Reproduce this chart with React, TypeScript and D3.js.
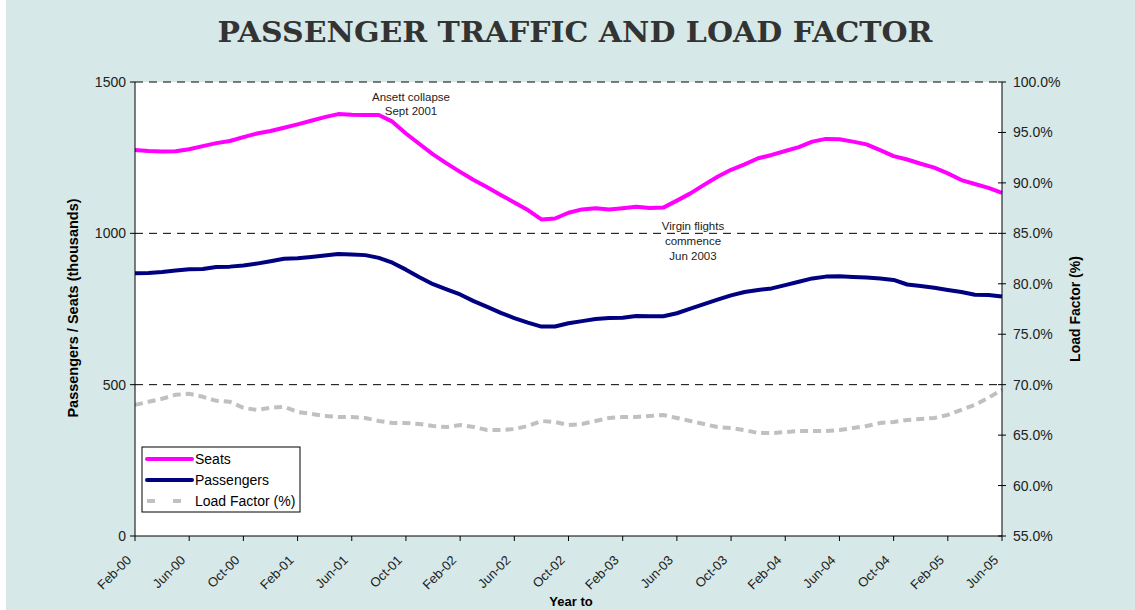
import React from 'react';
import * as d3 from 'd3';

// monthly values, Feb-00 .. Jun-05
const seats = [
  1275, 1272, 1270, 1271, 1278, 1288, 1298, 1305, 1318, 1330, 1338, 1349, 1360,
  1372, 1384, 1394, 1392, 1391, 1391, 1369, 1330, 1295, 1261, 1231, 1203, 1176,
  1152, 1127, 1102, 1077, 1046, 1049, 1068, 1079, 1083, 1079, 1083, 1088, 1084,
  1085, 1108, 1132, 1160, 1187, 1210, 1228, 1248, 1259, 1272, 1285, 1303, 1312,
  1311, 1303, 1294, 1275, 1255, 1244, 1230, 1217, 1198, 1176, 1163, 1150, 1134,
];
const passengers = [
  868, 869, 872, 877, 881, 882, 889, 890, 894, 900, 908, 916, 918,
  922, 927, 932, 930, 928, 919, 903, 880, 855, 832, 815, 798, 776,
  757, 737, 720, 705, 692, 692, 703, 710, 717, 720, 721, 727, 726,
  726, 736, 751, 766, 781, 795, 806, 813, 818, 829, 840, 851, 857,
  858, 856, 854, 851, 846, 831, 826, 820, 813, 806, 797, 796, 791,
];
const loadFactor = [
  68.0, 68.3, 68.6, 69.0, 69.1, 68.8, 68.4, 68.3, 67.7, 67.5, 67.7, 67.8, 67.3,
  67.1, 66.9, 66.8, 66.8, 66.7, 66.4, 66.2, 66.2, 66.1, 65.9, 65.8, 66.0, 65.8,
  65.5, 65.5, 65.6, 65.9, 66.4, 66.3, 66.0, 66.1, 66.4, 66.7, 66.8, 66.8, 66.9,
  67.0, 66.7, 66.4, 66.1, 65.8, 65.7, 65.5, 65.2, 65.2, 65.3, 65.4, 65.4, 65.4,
  65.5, 65.7, 65.9, 66.2, 66.3, 66.5, 66.6, 66.7, 67.0, 67.5, 68.0, 68.7, 69.5,
];
const tickLabels = [
  'Feb-00', 'Jun-00', 'Oct-00', 'Feb-01', 'Jun-01', 'Oct-01', 'Feb-02', 'Jun-02', 'Oct-02',
  'Feb-03', 'Jun-03', 'Oct-03', 'Feb-04', 'Jun-04', 'Oct-04', 'Feb-05', 'Jun-05',
];
const leftTicks = [0, 500, 1000, 1500];
const rightTicks = [55, 60, 65, 70, 75, 80, 85, 90, 95, 100];

const W = 1135;
const H = 610;
const m = { left: 135, right: 1002, top: 82, bottom: 536 };
const font = '"Liberation Sans", Arial, sans-serif';

export default function App() {
  const x = d3.scaleLinear().domain([0, seats.length - 1]).range([m.left, m.right]);
  const y = d3.scaleLinear().domain([0, 1500]).range([m.bottom, m.top]);
  const y2 = d3.scaleLinear().domain([55, 100]).range([m.bottom, m.top]);

  const line = d3.line<number>().x((_, i) => x(i)).y(d => y(d));
  const lfLine = d3.line<number>().x((_, i) => x(i)).y(d => y2(d));

  return (
    <svg width={W} height={H} style={{ position: 'absolute', left: 0, top: 0 }}>
      <rect x={0} y={0} width={W} height={H} fill="#fff" />
      <rect x={6} y={0} width={W - 6} height={H} fill="#D6E9E8" />

      <text x={575} y={42} textAnchor="middle" fontFamily='"DejaVu Serif", Georgia, serif'
        fontWeight="bold" fontSize={28} fill="#333" textLength={715} lengthAdjust="spacingAndGlyphs">
        PASSENGER TRAFFIC AND LOAD FACTOR
      </text>

      <rect x={m.left} y={m.top} width={m.right - m.left} height={m.bottom - m.top} fill="#fff" />

      {/* gridlines */}
      {leftTicks.filter(t => t > 0).map(t => (
        <line key={t} x1={m.left} x2={m.right} y1={y(t)} y2={y(t)}
          stroke="#000" strokeWidth={1} strokeDasharray="8 6" />
      ))}

      {/* series */}
      <path d={lfLine(loadFactor) || ''} fill="none" stroke="#C0C0C0" strokeWidth={4} strokeDasharray="8 5" />
      <path d={line(seats) || ''} fill="none" stroke="#FF00FF" strokeWidth={4} strokeLinejoin="round" />
      <path d={line(passengers) || ''} fill="none" stroke="#000080" strokeWidth={4} strokeLinejoin="round" />

      {/* axes */}
      <line x1={m.left} x2={m.left} y1={m.top} y2={m.bottom} stroke="#000" />
      <line x1={m.right} x2={m.right} y1={m.top} y2={m.bottom} stroke="#000" />
      <line x1={m.left} x2={m.right} y1={m.bottom} y2={m.bottom} stroke="#000" />

      {leftTicks.map(t => (
        <g key={t}>
          <line x1={m.left - 5} x2={m.left} y1={y(t)} y2={y(t)} stroke="#000" />
          <text x={m.left - 9} y={y(t) + 5} textAnchor="end" fontFamily={font} fontSize={14} fill="#222">{t}</text>
        </g>
      ))}
      {rightTicks.map(t => (
        <g key={t}>
          <line x1={m.right - 4} x2={m.right + 4} y1={y2(t)} y2={y2(t)} stroke="#000" />
          <text x={m.right + 11} y={y2(t) + 5} fontFamily={font} fontSize={14} fill="#222">{t.toFixed(1)}%</text>
        </g>
      ))}
      {tickLabels.map((lab, k) => {
        const tx = x(k * 4);
        return (
          <g key={lab}>
            <line x1={tx} x2={tx} y1={m.bottom} y2={m.bottom + 5} stroke="#000" />
            <text transform={`translate(${tx - 3},${m.bottom + 25}) rotate(-45)`} textAnchor="end"
              fontFamily={font} fontSize={13} fill="#222">{lab}</text>
          </g>
        );
      })}

      <text transform={`translate(78,308) rotate(-90)`} textAnchor="middle"
        fontFamily={font} fontWeight="bold" fontSize={14.5} fill="#000">Passengers / Seats  (thousands)</text>
      <text transform={`translate(1080,309) rotate(-90)`} textAnchor="middle"
        fontFamily={font} fontWeight="bold" fontSize={14} fill="#000">Load Factor (%)</text>
      <text x={571} y={606} textAnchor="middle" fontFamily={font} fontWeight="bold"
        fontSize={13} fill="#000">Year to</text>

      {/* annotations */}
      <text x={411} y={101} textAnchor="middle" fontFamily={font} fontSize={11.5} fill="#222">
        <tspan x={411}>Ansett collapse</tspan>
        <tspan x={411} dy={14}>Sept 2001</tspan>
      </text>
      <text x={693} y={230} textAnchor="middle" fontFamily={font} fontSize={11.5} fill="#222">
        <tspan x={693}>Virgin flights</tspan>
        <tspan x={693} dy={14.8}>commence</tspan>
        <tspan x={693} dy={14.8}>Jun 2003</tspan>
      </text>

      {/* legend */}
      <rect x={142} y={447} width={158} height={65} fill="#fff" stroke="#000" />
      {[
        { name: 'Seats', color: '#FF00FF', dash: undefined },
        { name: 'Passengers', color: '#000080', dash: undefined },
        { name: 'Load Factor (%)', color: '#C0C0C0', dash: '8 18' },
      ].map((s, i) => (
        <g key={s.name}>
          <line x1={147} x2={192} y1={459 + i * 21} y2={459 + i * 21} stroke={s.color} strokeWidth={4}
            strokeDasharray={s.dash} strokeLinecap={s.dash ? 'butt' : 'round'} />
          <text x={195} y={464 + i * 21} fontFamily={font} fontSize={14} fill="#000">{s.name}</text>
        </g>
      ))}
    </svg>
  );
}
